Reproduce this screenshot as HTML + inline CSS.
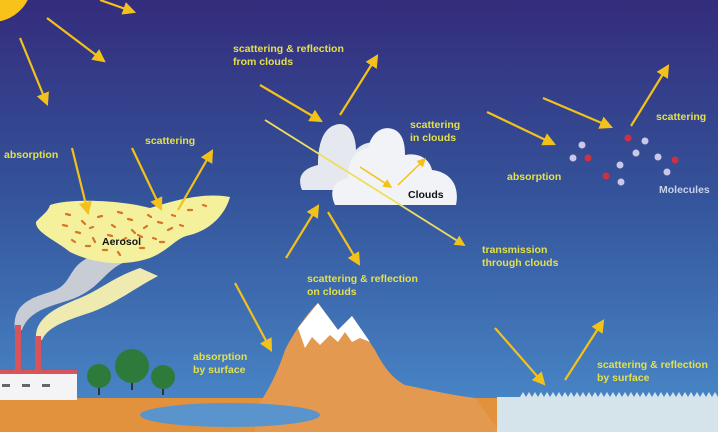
<!DOCTYPE html>
<html><head><meta charset="utf-8"><style>
html,body{margin:0;padding:0;width:718px;height:432px;overflow:hidden}
svg{display:block}
text{font-family:"Liberation Sans",sans-serif;font-weight:bold;font-size:10.5px}
.y{fill:#e4e04a}
</style></head><body>
<svg width="718" height="432" viewBox="0 0 718 432">
<defs>
<linearGradient id="sky" x1="0" y1="0" x2="0" y2="1">
<stop offset="0" stop-color="#342c7c"/><stop offset="0.45" stop-color="#34539a"/><stop offset="1" stop-color="#4a8ccc"/>
</linearGradient>
<marker id="ah" markerWidth="6" markerHeight="6" refX="5" refY="3" orient="auto" markerUnits="strokeWidth">
<path d="M0,0 L6,3 L0,6 z" fill="#f2c21a"/></marker>
</defs>
<rect width="718" height="432" fill="url(#sky)"/>
<circle cx="-8" cy="-18" r="40" fill="#f8c21a"/>
<path d="M15,330 C12,305 30,298 50,292 C75,285 65,265 95,255 L125,262 C105,270 100,288 75,298 C55,306 30,308 22,330 Z" fill="#c8ccd4"/>
<path d="M36,340 C34,318 55,308 80,298 C100,290 112,278 140,268 L158,276 C135,288 118,302 92,312 C68,320 48,326 42,340 Z" fill="#eeeab0"/>
<path d="M50,205 C70,198 120,200 150,208 C175,200 205,192 230,197 C225,215 210,230 190,235 C175,238 170,250 150,258 C120,268 90,262 70,252 C55,240 35,232 36,222 C42,215 48,212 50,205 Z" fill="#f4f09c"/>
<g stroke="#d8742a" stroke-width="2.2" stroke-linecap="round">
<path d="M66,214 l4,1 M82,221 l3,3 M98,217 l4,-1 M112,225 l3,2 M128,219 l4,1 M144,228 l3,-2 M158,222 l4,1 M172,215 l3,1 M188,210 l4,0 M203,205 l3,1 M76,232 l4,1 M93,238 l2,4 M108,235 l4,1 M123,240 l3,-2 M138,235 l4,2 M153,238 l3,1 M103,250 l4,0 M118,252 l2,3 M86,246 l4,0 M168,230 l4,-2 M148,215 l3,2 M63,225 l4,1 M90,228 l3,-1 M132,230 l3,3 M160,242 l4,0 M180,225 l3,1 M118,212 l4,1 M72,240 l3,2 M140,248 l4,0"/>
</g>
<text x="102" y="245" font-size="10" fill="#111">Aerosol</text>
<path d="M302,190 C296,175 305,168 318,165 C318,140 325,125 340,124 C352,124 356,140 356,150 C365,140 380,140 385,150 L385,190 Z" fill="#e6e8ef"/>
<path d="M335,205 C328,190 335,180 348,178 C348,160 355,150 368,148 C372,130 385,125 395,130 C405,135 405,150 405,155 C420,152 430,160 432,170 C450,172 460,185 456,205 Z" fill="#f2f3f7"/>
<text x="408" y="198" font-size="10.5" fill="#111">Clouds</text>
<rect x="0" y="398" width="500" height="34" fill="#e2913c"/>
<path d="M255,410 C265,395 275,380 285,350 C295,330 310,310 318,303 L338,330 L352,316 L375,350 C385,370 395,380 405,385 C430,390 450,395 475,398 L500,432 L255,432 Z" fill="#e39a50"/>
<path d="M298,328 L318,303 L338,330 L352,316 L370,342 L360,338 L352,342 L345,332 L338,342 L330,335 L320,345 L312,337 L305,348 Z" fill="#ffffff"/>
<ellipse cx="230" cy="415" rx="90" ry="12" fill="#5a94cc"/>
<rect x="497" y="397" width="221" height="35" fill="#d5e4ea"/>
<path d="M520,397 l3,-5 l3,5 l3,-5 l3,5 l3,-5 l3,5 l3,-5 l3,5 l3,-5 l3,5 l3,-5 l3,5 l3,-5 l3,5 l3,-5 l3,5 l3,-5 l3,5 l3,-5 l3,5 l3,-5 l3,5 l3,-5 l3,5 l3,-5 l3,5 l3,-5 l3,5 l3,-5 l3,5 l3,-5 l3,5 l3,-5 l3,5 l3,-5 l3,5 l3,-5 l3,5 l3,-5 l3,5 l3,-5 l3,5 l3,-5 l3,5 l3,-5 l3,5 l3,-5 l3,5 l3,-5 l3,5 l3,-5 l3,5 l3,-5 l3,5 l3,-5 l3,5 l3,-5 l3,5 l3,-5 l3,5 l3,-5 l3,5 l3,-5 l3,5 l3,-5 l3,5 l3,-5 l3,5 l3,-5 l3,5 Z" fill="#d5e4ea"/>
<rect x="15" y="325" width="6" height="50" fill="#d8545a"/>
<rect x="35" y="336" width="6" height="39" fill="#d8545a"/>
<rect x="0" y="372" width="77" height="28" fill="#f4f4f6"/>
<rect x="0" y="370" width="77" height="4" fill="#d8545a"/>
<g fill="#666"><rect x="2" y="384" width="8" height="3"/><rect x="22" y="384" width="8" height="3"/><rect x="42" y="384" width="8" height="3"/></g>
<g>
<rect x="98" y="380" width="2" height="15" fill="#333"/><circle cx="99" cy="376" r="12" fill="#2e7a3a"/>
<rect x="131" y="370" width="2" height="20" fill="#333"/><circle cx="132" cy="366" r="17" fill="#2e7a3a"/>
<rect x="162" y="380" width="2" height="15" fill="#333"/><circle cx="163" cy="377" r="12" fill="#2e7a3a"/>
</g>
<g>
<circle cx="582" cy="145" r="3.5" fill="#c8c8e8"/><circle cx="573" cy="158" r="3.5" fill="#c8c8e8"/><circle cx="588" cy="158" r="3.5" fill="#d03040"/>
<circle cx="628" cy="138" r="3.5" fill="#d03040"/><circle cx="645" cy="141" r="3.5" fill="#c8c8e8"/><circle cx="636" cy="153" r="3.5" fill="#c8c8e8"/>
<circle cx="620" cy="165" r="3.5" fill="#c8c8e8"/><circle cx="606" cy="176" r="3.5" fill="#d03040"/><circle cx="621" cy="182" r="3.5" fill="#c8c8e8"/>
<circle cx="658" cy="157" r="3.5" fill="#c8c8e8"/><circle cx="675" cy="160" r="3.5" fill="#d03040"/><circle cx="667" cy="172" r="3.5" fill="#c8c8e8"/>
</g>
<text x="659" y="193" font-size="10" fill="#c8d0ea">Molecules</text>
<g stroke="#f2c21a" stroke-width="2.2" marker-end="url(#ah)">
<line x1="100" y1="0" x2="134" y2="12"/>
<line x1="47" y1="18" x2="104" y2="61"/>
<line x1="20" y1="38" x2="47" y2="104"/>
<line x1="72" y1="148" x2="88" y2="213"/>
<line x1="132" y1="148" x2="161" y2="209"/>
<line x1="178" y1="210" x2="212" y2="151"/>
<line x1="260" y1="85" x2="321" y2="121"/>
<line x1="340" y1="115" x2="377" y2="56"/>
<line x1="265" y1="120" x2="464" y2="245" stroke="#eede60" stroke-width="1.8"/>
<line x1="360" y1="167" x2="391" y2="187" stroke-width="1.5"/>
<line x1="398" y1="185" x2="425" y2="159" stroke-width="1.5"/>
<line x1="286" y1="258" x2="318" y2="206"/>
<line x1="328" y1="212" x2="359" y2="264"/>
<line x1="487" y1="112" x2="554" y2="144"/>
<line x1="543" y1="98" x2="611" y2="127"/>
<line x1="631" y1="126" x2="668" y2="66"/>
<line x1="235" y1="283" x2="271" y2="350"/>
<line x1="495" y1="328" x2="544" y2="384"/>
<line x1="565" y1="380" x2="603" y2="321"/>
</g>
<g class="y">
<text x="233" y="52">scattering &amp; reflection</text>
<text x="233" y="65">from clouds</text>
<text x="410" y="128">scattering</text>
<text x="410" y="141">in clouds</text>
<text x="4" y="158">absorption</text>
<text x="145" y="144">scattering</text>
<text x="507" y="180">absorption</text>
<text x="656" y="120">scattering</text>
<text x="482" y="253">transmission</text>
<text x="482" y="266">through clouds</text>
<text x="307" y="282">scattering &amp; reflection</text>
<text x="307" y="295">on clouds</text>
<text x="193" y="360">absorption</text>
<text x="193" y="373">by surface</text>
<text x="597" y="368">scattering &amp; reflection</text>
<text x="597" y="381">by surface</text>
</g>
</svg>
</body></html>
